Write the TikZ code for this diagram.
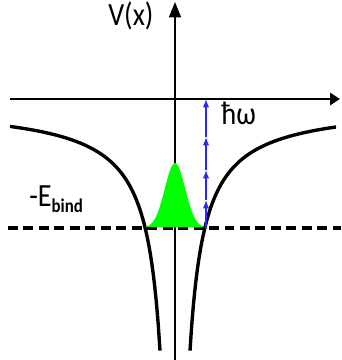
\documentclass[tikz,border=0pt]{standalone}
\usepackage{fontspec}
\setmainfont{Carlito}
\usetikzlibrary{arrows.meta}
\newcommand{\drawaxis}{\draw[line width=2pt, -{Triangle[length=7pt, width=8.5pt]}]}
\newcommand{\drawquantum}{\draw[qblue, line width=0.9pt, -{Latex[length=6pt, width=4.5pt]}]}
\newcommand{\tall}[1]{\scalebox{1}[1.15]{#1}}
\definecolor{qblue}{RGB}{40,40,255}
\tikzset{
    branch/.style={line width=2.4pt, samples=80, smooth},
    levelline/.style={line width=2.2pt, dash pattern=on 7pt off 4pt},
    lbl/.style={inner sep=0pt, anchor=base west, font=\fontsize{20}{22}\selectfont}
}

\begin{document}
\begin{tikzpicture}[x=0.025cm, y=-0.025cm]
    \useasboundingbox (0,0) rectangle (341,360);

    % Draw axes
    \coordinate (xl) at (10,99);
    \coordinate (xr) at (340,99);
    \coordinate (yb) at (175,360);
    \coordinate (yt) at (175,2);
    \drawaxis (xl) -- (xr);
    \drawaxis[line width=1.4pt, -{Triangle[length=11pt, width=8.5pt]}] (yb) -- (yt);

    % Draw binding level
    \coordinate (bl) at (8,228);
    \coordinate (br) at (341,228);
    \draw[levelline] (bl) -- (br);

    % Draw wave packet
    \fill[green] plot[domain=-29:31, samples=60, smooth] (\x+175, {228-65*exp(-(\x/14.4)^2)}) -- cycle;

    % Draw potential
    \draw[branch] plot[domain=10:160] (\x, {104+3700/(175-\x)});
    \draw[branch] plot[domain=190:336] (\x, {104+3700/(\x-175)});

    % Draw photon steps
    \coordinate (e0) at (206,228);
    \coordinate (e1) at (206,200);
    \coordinate (e2) at (206,170);
    \coordinate (e3) at (206,137);
    \coordinate (e4) at (206,99);
    \foreach \a/\b in {e0/e1, e1/e2, e2/e3, e3/e4} {
        \drawquantum (\a) -- (\b);
    }

    \node[lbl] (vx) at (108,26) {\tall{V(x)}};
    \node[lbl] (hw) at (221,124) {\tall{ħω}};
    \node[lbl] (eb) at (29,206) {\tall{-E\raisebox{-0.4ex}{\fontsize{12}{13}\selectfont\bfseries bind}}};
\end{tikzpicture}
\end{document}
